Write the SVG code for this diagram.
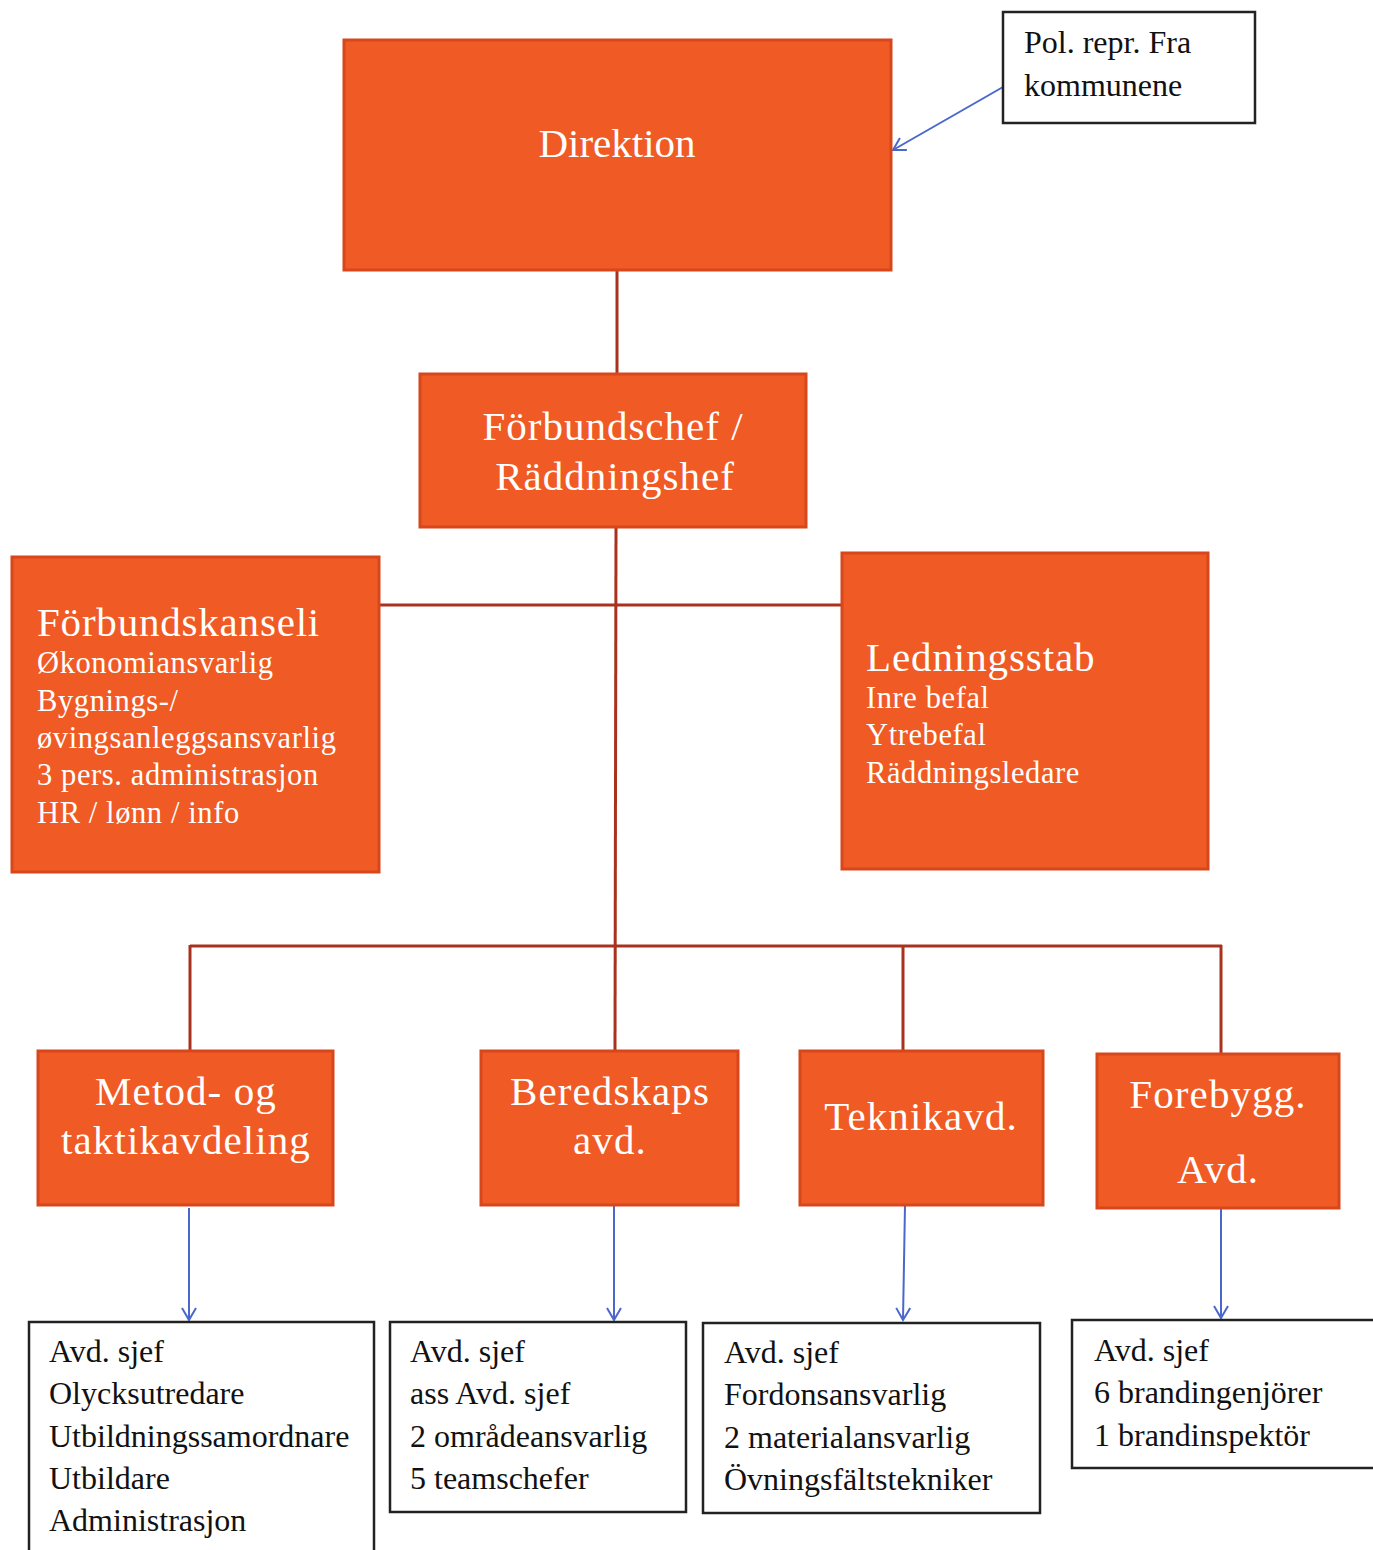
<svg xmlns="http://www.w3.org/2000/svg" width="1373" height="1550" viewBox="0 0 1373 1550">
<style>
.org{fill:#F05A24;stroke:#D8461C;stroke-width:3}
.wb{fill:#FFFFFF;stroke:#222222;stroke-width:2.5}
.wt{font-family:"Liberation Serif",serif;fill:#FFFFFF}
.sub{font-size:30.5px;letter-spacing:0.6px}
.bt{font-family:"Liberation Serif",serif;fill:#111111;font-size:32px}
.red{stroke:#A8321E;stroke-width:3;fill:none}
.blue{stroke:#4A67CC;stroke-width:2;fill:none}
</style>
<defs>
<marker id="ah" markerWidth="16" markerHeight="16" refX="13" refY="8" orient="auto" markerUnits="userSpaceOnUse">
<path d="M1,1 L13,8 L1,15" fill="none" stroke="#4A67CC" stroke-width="2"/>
</marker>
</defs>
<rect width="1373" height="1550" fill="#FFFFFF"/>
<g id="connectors">
<line class="red" x1="617" y1="270" x2="617" y2="374"/>
<line class="red" x1="616" y1="527" x2="615" y2="1051"/>
<line class="red" x1="380" y1="605" x2="842" y2="605"/>
<line class="red" x1="190" y1="946" x2="1222" y2="946"/>
<line class="red" x1="190" y1="945" x2="190" y2="1051"/>
<line class="red" x1="903" y1="945" x2="903" y2="1051"/>
<line class="red" x1="1221" y1="945" x2="1221" y2="1054"/>
<line class="blue" x1="1003" y1="87" x2="893" y2="150" marker-end="url(#ah)"/>
<line class="blue" x1="189" y1="1208" x2="189" y2="1320" marker-end="url(#ah)"/>
<line class="blue" x1="614" y1="1205" x2="614" y2="1320" marker-end="url(#ah)"/>
<line class="blue" x1="905" y1="1205" x2="903" y2="1320" marker-end="url(#ah)"/>
<line class="blue" x1="1221" y1="1208" x2="1221" y2="1318" marker-end="url(#ah)"/>
</g>
<g id="pol">
<rect class="wb" x="1003" y="12" width="252" height="111"/>
<text class="bt" x="1024" y="53">Pol. repr. Fra</text>
<text class="bt" x="1024" y="96">kommunene</text>
</g>
<g id="direktion">
<rect class="org" x="344" y="40" width="547" height="230"/>
<text class="wt" x="617" y="157" font-size="41" text-anchor="middle">Direktion</text>
</g>
<g id="forbundschef">
<rect class="org" x="420" y="374" width="386" height="153"/>
<text class="wt" x="613" y="440" font-size="41" text-anchor="middle" letter-spacing="1">Förbundschef /</text>
<text class="wt" x="615" y="490" font-size="41" text-anchor="middle" letter-spacing="1">Räddningshef</text>
</g>
<g id="forbundskanseli">
<rect class="org" x="12" y="557" width="367" height="315"/>
<text class="wt" x="37" y="636" font-size="41" letter-spacing="0.8">Förbundskanseli</text>
<text class="wt sub" x="37" y="673">Økonomiansvarlig</text>
<text class="wt sub" x="37" y="711">Bygnings-/</text>
<text class="wt sub" x="37" y="748">øvingsanleggsansvarlig</text>
<text class="wt sub" x="37" y="785">3 pers. administrasjon</text>
<text class="wt sub" x="37" y="823">HR / lønn / info</text>
</g>
<g id="ledningsstab">
<rect class="org" x="842" y="553" width="366" height="316"/>
<text class="wt" x="866" y="671" font-size="41" letter-spacing="0.9">Ledningsstab</text>
<text class="wt sub" x="866" y="708">Inre befal</text>
<text class="wt sub" x="866" y="745">Ytrebefal</text>
<text class="wt sub" x="866" y="783">Räddningsledare</text>
</g>
<g id="metod">
<rect class="org" x="38" y="1051" width="295" height="154"/>
<text class="wt" x="186" y="1105" font-size="41" text-anchor="middle" letter-spacing="1.1">Metod- og</text>
<text class="wt" x="186" y="1154" font-size="41" text-anchor="middle" letter-spacing="1.1">taktikavdeling</text>
</g>
<g id="beredskaps">
<rect class="org" x="481" y="1051" width="257" height="154"/>
<text class="wt" x="610" y="1105" font-size="41" text-anchor="middle" letter-spacing="1.1">Beredskaps</text>
<text class="wt" x="610" y="1154" font-size="41" text-anchor="middle" letter-spacing="1.1">avd.</text>
</g>
<g id="teknik">
<rect class="org" x="800" y="1051" width="243" height="154"/>
<text class="wt" x="921" y="1130" font-size="41" text-anchor="middle" letter-spacing="1.1">Teknikavd.</text>
</g>
<g id="forebygg">
<rect class="org" x="1097" y="1054" width="242" height="154"/>
<text class="wt" x="1218" y="1108" font-size="41" text-anchor="middle" letter-spacing="1.1">Forebygg.</text>
<text class="wt" x="1218" y="1183" font-size="41" text-anchor="middle" letter-spacing="1.1">Avd.</text>
</g>
<g id="metod-staff">
<rect class="wb" x="29" y="1322" width="345" height="240"/>
<text class="bt" x="49" y="1362">Avd. sjef</text>
<text class="bt" x="49" y="1404">Olycksutredare</text>
<text class="bt" x="49" y="1447">Utbildningssamordnare</text>
<text class="bt" x="49" y="1489">Utbildare</text>
<text class="bt" x="49" y="1531">Administrasjon</text>
</g>
<g id="beredskaps-staff">
<rect class="wb" x="390" y="1322" width="296" height="190"/>
<text class="bt" x="410" y="1362">Avd. sjef</text>
<text class="bt" x="410" y="1404">ass Avd. sjef</text>
<text class="bt" x="410" y="1447">2 områdeansvarlig</text>
<text class="bt" x="410" y="1489">5 teamschefer</text>
</g>
<g id="teknik-staff">
<rect class="wb" x="703" y="1323" width="337" height="190"/>
<text class="bt" x="724" y="1363">Avd. sjef</text>
<text class="bt" x="724" y="1405">Fordonsansvarlig</text>
<text class="bt" x="724" y="1448">2 materialansvarlig</text>
<text class="bt" x="724" y="1490">Övningsfältstekniker</text>
</g>
<g id="forebygg-staff">
<rect class="wb" x="1072" y="1320" width="320" height="148"/>
<text class="bt" x="1094" y="1361">Avd. sjef</text>
<text class="bt" x="1094" y="1403">6 brandingenjörer</text>
<text class="bt" x="1094" y="1446">1 brandinspektör</text>
</g>
</svg>
